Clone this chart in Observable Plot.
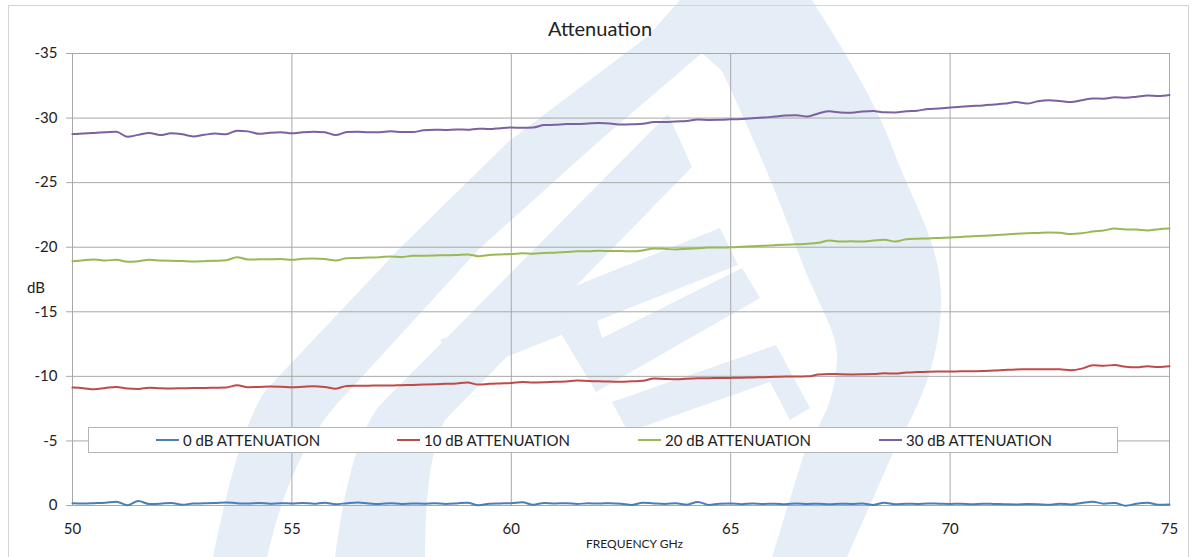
<!DOCTYPE html>
<html>
<head>
<meta charset="utf-8">
<script src="https://cdn.jsdelivr.net/npm/d3@7"></script>
<script src="https://cdn.jsdelivr.net/npm/@observablehq/plot@0.6"></script>
<style>
  html, body { margin: 0; padding: 0; background: #fff; }
  #wrap { position: relative; width: 1197px; height: 557px; overflow: hidden; font-family: Lato, "Open Sans", sans-serif; color: #222; }
  #wm { position: absolute; left: 0; top: 0; z-index: 0; pointer-events: none; }
  #frame { position: absolute; left: 8px; top: 5px; width: 1181px; height: 560px; border: 1px solid #d4d4d4; box-sizing: border-box; z-index: 1; }
  #plot { position: absolute; left: 0; top: 0; z-index: 2; }
  #title { position: absolute; left: 548px; top: 16px; font-size: 20px; z-index: 3; }
  #ylab { position: absolute; left: 27px; top: 278px; font-size: 15px; z-index: 3; }
  #xlab { position: absolute; left: 580px; top: 533px; padding: 3px 6px 6px 6px; background: #fff; font-size: 12px; z-index: 3; }
  #legend { position: absolute; left: 88px; top: 427px; width: 1030px; height: 26px; border: 1px solid #b5b5b5; background: #fff; box-sizing: border-box; z-index: 3; }
  .li { position: absolute; top: 2px; font-size: 15px; white-space: nowrap; display: flex; align-items: center; height: 20px; }
  .sw { display: inline-block; width: 23px; height: 2px; margin-right: 4px; }
</style>
</head>
<body>
<div id="wrap">
  <div id="frame"></div>
  <div id="plot"></div>
  <div id="title">Attenuation</div>
  <div id="ylab">dB</div>
  <div id="legend"></div>
  <div id="xlab">FREQUENCY GHz</div>
</div>
<script>
// ---- data ----
const seriesNames = ["0 dB ATTENUATION", "10 dB ATTENUATION", "20 dB ATTENUATION", "30 dB ATTENUATION"];
const seriesColors = ["#4a7ebb", "#be4b48", "#98b954", "#7d60a0"];
const freqGHz = [
  50.00,50.25,50.50,50.75,51.00,51.25,51.50,51.75,52.00,52.25,52.50,52.75,53.00,53.25,53.50,53.75,
  54.00,54.25,54.50,54.75,55.00,55.25,55.50,55.75,56.00,56.25,56.50,56.75,57.00,57.25,57.50,57.75,
  58.00,58.25,58.50,58.75,59.00,59.25,59.50,59.75,60.00,60.25,60.50,60.75,61.00,61.25,61.50,61.75,
  62.00,62.25,62.50,62.75,63.00,63.25,63.50,63.75,64.00,64.25,64.50,64.75,65.00,65.25,65.50,65.75,
  66.00,66.25,66.50,66.75,67.00,67.25,67.50,67.75,68.00,68.25,68.50,68.75,69.00,69.25,69.50,69.75,
  70.00,70.25,70.50,70.75,71.00,71.25,71.50,71.75,72.00,72.25,72.50,72.75,73.00,73.25,73.50,73.75,
  74.00,74.25,74.50,74.75,75.00
];
const att0 = [
  -0.17,-0.15,-0.18,-0.22,-0.30,-0.02,-0.35,-0.12,-0.14,-0.20,-0.06,-0.15,-0.17,-0.20,-0.24,-0.18,
  -0.15,-0.20,-0.14,-0.18,-0.16,-0.20,-0.14,-0.22,-0.10,-0.18,-0.24,-0.16,-0.12,-0.18,-0.12,-0.16,
  -0.14,-0.18,-0.12,-0.16,-0.22,-0.02,-0.14,-0.16,-0.18,-0.25,-0.06,-0.20,-0.16,-0.18,-0.12,-0.17,
  -0.15,-0.18,-0.14,-0.04,-0.22,-0.16,-0.12,-0.18,-0.06,-0.28,-0.04,-0.14,-0.16,-0.10,-0.16,-0.12,
  -0.14,-0.10,-0.16,-0.12,-0.14,-0.10,-0.14,-0.12,-0.15,-0.04,-0.22,-0.10,-0.14,-0.12,-0.16,-0.14,
  -0.12,-0.14,-0.10,-0.14,-0.12,-0.10,-0.08,-0.12,-0.10,-0.06,-0.14,-0.08,-0.20,-0.30,-0.14,-0.20,
  0.02,-0.14,-0.22,-0.06,-0.08
];
const att10 = [
  -9.13,-9.08,-9.00,-9.10,-9.18,-9.06,-9.03,-9.12,-9.08,-9.06,-9.08,-9.10,-9.10,-9.12,-9.14,-9.31,
  -9.16,-9.18,-9.21,-9.20,-9.16,-9.20,-9.24,-9.18,-9.05,-9.26,-9.27,-9.28,-9.30,-9.29,-9.32,-9.34,
  -9.36,-9.38,-9.42,-9.45,-9.52,-9.36,-9.42,-9.45,-9.48,-9.57,-9.52,-9.54,-9.58,-9.60,-9.67,-9.64,
  -9.62,-9.60,-9.58,-9.62,-9.66,-9.83,-9.80,-9.78,-9.82,-9.85,-9.86,-9.87,-9.88,-9.90,-9.92,-9.94,
  -9.96,-9.98,-9.98,-10.00,-10.14,-10.19,-10.16,-10.15,-10.16,-10.18,-10.24,-10.22,-10.30,-10.33,-10.35,-10.37,
  -10.38,-10.39,-10.40,-10.42,-10.45,-10.50,-10.54,-10.55,-10.56,-10.56,-10.55,-10.48,-10.60,-10.86,-10.82,-10.88,
  -10.74,-10.70,-10.78,-10.72,-10.78
];
const att20 = [
  -18.92,-19.00,-19.05,-18.97,-19.03,-18.88,-18.92,-19.02,-18.98,-18.95,-18.93,-18.90,-18.92,-18.95,-18.99,-19.23,
  -19.05,-19.06,-19.07,-19.08,-19.02,-19.10,-19.13,-19.08,-18.97,-19.15,-19.17,-19.20,-19.23,-19.28,-19.25,-19.33,
  -19.34,-19.36,-19.38,-19.40,-19.44,-19.31,-19.40,-19.44,-19.47,-19.54,-19.50,-19.55,-19.58,-19.62,-19.69,-19.69,
  -19.72,-19.70,-19.70,-19.68,-19.75,-19.90,-19.88,-19.82,-19.88,-19.92,-19.97,-19.98,-20.00,-20.04,-20.08,-20.12,
  -20.16,-20.20,-20.23,-20.26,-20.34,-20.52,-20.44,-20.46,-20.44,-20.52,-20.58,-20.44,-20.62,-20.66,-20.68,-20.72,
  -20.76,-20.80,-20.85,-20.88,-20.92,-20.98,-21.04,-21.08,-21.10,-21.13,-21.12,-21.02,-21.08,-21.21,-21.30,-21.44,
  -21.38,-21.37,-21.30,-21.40,-21.44
];
const att30 = [
  -28.76,-28.80,-28.85,-28.90,-28.95,-28.55,-28.70,-28.85,-28.68,-28.82,-28.74,-28.58,-28.70,-28.80,-28.75,-29.02,
  -28.97,-28.78,-28.86,-28.90,-28.82,-28.90,-28.94,-28.90,-28.68,-28.92,-28.94,-28.90,-28.90,-28.97,-28.93,-28.92,
  -29.05,-29.10,-29.08,-29.12,-29.10,-29.18,-29.15,-29.22,-29.27,-29.25,-29.27,-29.46,-29.48,-29.54,-29.55,-29.58,
  -29.61,-29.58,-29.50,-29.52,-29.56,-29.69,-29.70,-29.74,-29.77,-29.88,-29.86,-29.87,-29.90,-29.93,-29.98,-30.04,
  -30.12,-30.20,-30.22,-30.12,-30.36,-30.52,-30.44,-30.42,-30.50,-30.54,-30.45,-30.44,-30.52,-30.57,-30.70,-30.74,
  -30.82,-30.88,-30.93,-30.98,-31.05,-31.12,-31.24,-31.12,-31.30,-31.38,-31.32,-31.24,-31.38,-31.52,-31.50,-31.62,
  -31.58,-31.65,-31.74,-31.70,-31.78
];
const xTicks = [50, 55, 60, 65, 70, 75];
const yTicks = [-35, -30, -25, -20, -15, -10, -5, 0];

// ---- build table ----
const seriesValues = [att0, att10, att20, att30];
const rows = [];
seriesNames.forEach((name, i) => {
  freqGHz.forEach((f, j) => rows.push({series: name, f, v: seriesValues[i][j]}));
});

const W = 1197, H = 557;
const chart = Plot.plot({
  width: W,
  height: H,
  marginLeft: 72,
  marginRight: 28,
  marginTop: 53,
  marginBottom: 52,
  style: {fontFamily: "Lato, 'Open Sans', sans-serif", fontSize: "15px", color: "#222", background: "transparent", overflow: "visible"},
  x: {domain: [50, 75], ticks: xTicks, label: null},
  y: {domain: [0, -35], ticks: yTicks, label: null},
  color: {domain: seriesNames, range: seriesColors},
  marks: [
    Plot.gridX(xTicks, {stroke: "#a8a8a8", strokeOpacity: 1}),
    Plot.gridY(yTicks, {stroke: "#a8a8a8", strokeOpacity: 1}),
    Plot.frame({stroke: "#a8a8a8"}),
    Plot.axisY(yTicks, {tickSize: 6, tickPadding: 9, stroke: "#a8a8a8", tickFormat: d => String(d), fill: "#222", fontSize: 15}),
    Plot.axisX(xTicks, {tickSize: 0, tickPadding: 18, tickFormat: d => String(d), fill: "#222", fontSize: 15}),
    Plot.line(rows, {x: "f", y: "v", z: "series", stroke: "series", strokeWidth: 2, curve: "monotone-x"})
  ]
});
document.getElementById("plot").appendChild(chart);

// legend
const leg = document.getElementById("legend");
seriesNames.forEach((name, i) => {
  const d = document.createElement("div");
  d.className = "li";
  d.style.left = (67 + i * 241) + "px";
  d.innerHTML = `<span class="sw" style="background:${seriesColors[i]}"></span><span>${name}</span>`;
  leg.appendChild(d);
});

// faint watermark logo behind the chart (decoration only)
const ns = "http://www.w3.org/2000/svg";
const wm = document.createElementNS(ns, "svg");
wm.setAttribute("id", "wm");
wm.setAttribute("width", W);
wm.setAttribute("height", H);
const g = document.createElementNS(ns, "g");
g.setAttribute("fill", "#e5edf6");
g.setAttribute("fill-rule", "evenodd");
[
  // outer teardrop band (outer contour + inner hole)
  "M213,557 C225,500 240,430 265,391 L399,249 L508,142 L648,36 L680,0 L812,0 C850,60 880,110 897,160 C920,215 941,250 941,300 C941,340 930,390 897,444 L847,557 Z " +
  "M267,557 C285,480 310,430 349,391 L479,249 L598,142 L702,53 L722,71 C750,130 780,200 797,249 C815,300 837,330 837,355 C837,390 825,420 807,444 L772,557 Z",
  // inner leg
  "M335,557 C345,480 360,430 380,405 L668,114 L692,167 L445,420 C430,450 425,500 425,557 Z",
  // crossbar
  "M440,340 L720,228 L738,265 L468,372 Z",
  // lower chevron
  "M560,290 L588,290 L602,338 L742,268 L760,298 L596,392 L562,335 Z",
  "M612,402 L776,345 L810,408 L790,420 L770,382 L628,432 Z"
].forEach(p => {
  const path = document.createElementNS(ns, "path");
  path.setAttribute("d", p);
  g.appendChild(path);
});
wm.appendChild(g);
document.getElementById("wrap").insertBefore(wm, document.getElementById("wrap").firstChild);
</script>
</body>
</html>
